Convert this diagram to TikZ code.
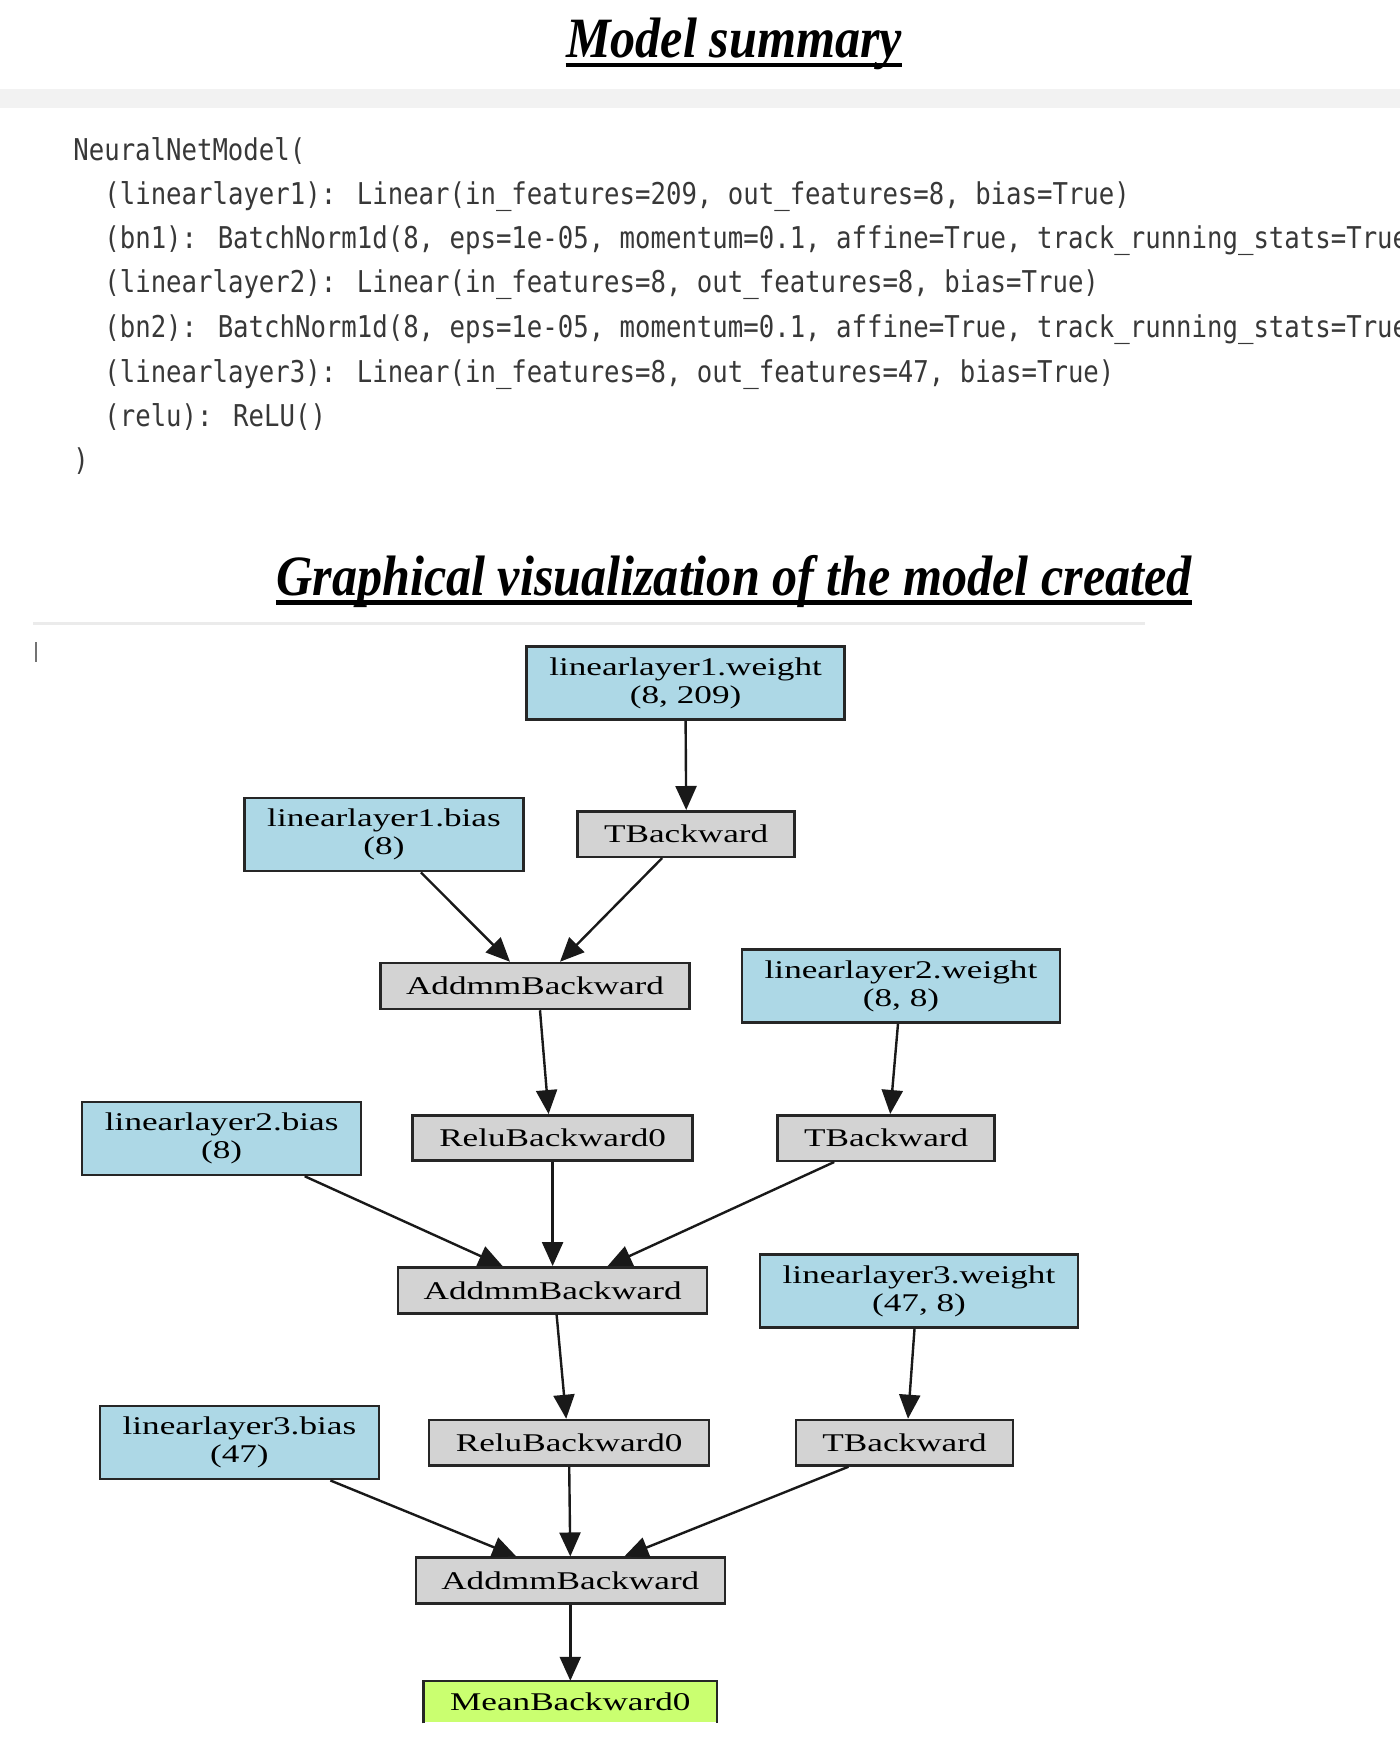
\documentclass[tikz,border=0pt]{standalone}
\usepackage{fontspec}
\setmainfont{Liberation Serif}
\newfontfamily\codefont{DejaVu Sans Mono}
\usepackage{graphicx}
\usetikzlibrary{arrows.meta}
\definecolor{nodeblue}{HTML}{ADD8E6}
\definecolor{nodegray}{HTML}{D3D3D3}
\definecolor{nodegreen}{HTML}{CAFF70}
\definecolor{codegray}{HTML}{383838}
\newcommand\hwide[1]{\scalebox{1.38}[1]{#1}}
\newcommand\hcode[1]{\scalebox{0.856}[1]{#1}}
\newcommand\htitle[1]{\scalebox{0.88}[1]{#1}}
\begin{document}
\begin{tikzpicture}[x=0.5pt,y=-0.5pt,
  box/.style={draw=black!85, line width=1.25pt, inner sep=0pt, align=center,
     font=\fontsize{12.75}{14}\selectfont},
  param/.style={box, fill=nodeblue, minimum height=36.5pt},
  wbox/.style={param, minimum width=159pt},
  bbox/.style={param, minimum width=139.5pt},
  tbox/.style={box, fill=nodegray, minimum width=108.5pt, minimum height=22.75pt},
  abox/.style={box, fill=nodegray, minimum width=154.5pt, minimum height=23pt},
  rbox/.style={box, fill=nodegray, minimum width=140pt, minimum height=22.7pt},
  edge/.style={line width=1.2pt, black!90, -{Triangle[length=12pt,width=10.5pt]}},
  codeline/.style={anchor=base west, inner sep=0pt, text=codegray, font=\codefont\fontsize{15}{15}\selectfont},
  title/.style={anchor=base, inner sep=0pt, font=\fontsize{28.5}{30}\selectfont\bfseries\itshape}
]
\path[use as bounding box] (0,0) rectangle (1400,1738);
\clip (0,0) rectangle (1400,1738);
\fill[white] (0,0) rectangle (1400,1738);

% ---- Title 1
\node[title] (t1) at (734,58) {\htitle{Model summary}};
\draw[line width=2.3pt] ([yshift=-3.6pt]t1.base west) -- ([yshift=-3.6pt]t1.base east);
\fill[black!5] (0,89) rectangle (1400,108);

% ---- Code
\node[codeline] (c0) at (73,161) {\hcode{NeuralNetModel(}};
\node[codeline] (c1) at (104,205) {\hcode{(linearlayer1): Linear(in\_features=209, out\_features=8, bias=True)}};
\node[codeline] (c2) at (104,249) {\hcode{(bn1): BatchNorm1d(8, eps=1e-05, momentum=0.1, affine=True, track\_running\_stats=True)}};
\node[codeline] (c3) at (104,293) {\hcode{(linearlayer2): Linear(in\_features=8, out\_features=8, bias=True)}};
\node[codeline] (c4) at (104,337) {\hcode{(bn2): BatchNorm1d(8, eps=1e-05, momentum=0.1, affine=True, track\_running\_stats=True)}};
\node[codeline] (c5) at (104,382) {\hcode{(linearlayer3): Linear(in\_features=8, out\_features=47, bias=True)}};
\node[codeline] (c6) at (104,426) {\hcode{(relu): ReLU()}};
\node[codeline] (c7) at (73,470) {\hcode{)}};

% ---- Title 2
\node[title] (t2) at (734,595) {\htitle{Graphical visualization of the model created}};
\draw[line width=2.3pt] ([yshift=-3.6pt]t2.base west) -- ([yshift=-3.6pt]t2.base east);
\draw[black!8, line width=1.5pt] (33,623) -- (1145,623);
\draw[black!55, line width=1pt] (36,642) -- (36,662);

% ---- Graph nodes
\node[wbox] (lw1) at (685.6,683) {\hwide{linearlayer1.weight}\\\hwide{(8, 209)}};
\node[tbox] (tb1) at (686.2,834) {\hwide{TBackward}};
\node[bbox] (lb1) at (384,834.7) {\hwide{linearlayer1.bias}\\\hwide{(8)}};
\node[abox] (ab1) at (535,986) {\hwide{AddmmBackward}};
\node[wbox] (lw2) at (901,986) {\hwide{linearlayer2.weight}\\\hwide{(8, 8)}};
\node[bbox] (lb2) at (221.7,1138.5) {\hwide{linearlayer2.bias}\\\hwide{(8)}};
\node[rbox] (rb1) at (552.6,1138) {\hwide{ReluBackward0}};
\node[tbox] (tb2) at (886.2,1138) {\hwide{TBackward}};
\node[abox] (ab2) at (552.6,1290.3) {\hwide{AddmmBackward}};
\node[wbox] (lw3) at (919,1291) {\hwide{linearlayer3.weight}\\\hwide{(47, 8)}};
\node[bbox] (lb3) at (239.4,1442.7) {\hwide{linearlayer3.bias}\\\hwide{(47)}};
\node[rbox] (rb2) at (569.2,1442.7) {\hwide{ReluBackward0}};
\node[tbox] (tb3) at (904.5,1442.7) {\hwide{TBackward}};
\node[abox] (ab3) at (570.3,1580.7) {\hwide{AddmmBackward}};
\node[box, draw=none, fill=nodegreen, minimum width=145.5pt, minimum height=20pt] (mb) at (570.3,1702) {\hwide{MeanBackward0}};
\draw[black!85, line width=1.25pt] (mb.south west) -- (mb.north west) -- (mb.north east) -- (mb.south east);

% ---- Edges
\draw[edge] (lw1.south) -- (tb1.north);
\draw[edge] ([xshift=18.5pt]lb1.south) -- ([xshift=-12.5pt]ab1.north);
\draw[edge] ([xshift=-12pt]tb1.south) -- ([xshift=12.5pt]ab1.north);
\draw[edge] ([xshift=2.5pt]ab1.south) -- ([xshift=-2pt]rb1.north);
\draw[edge] ([xshift=-1.5pt]lw2.south) -- ([xshift=2pt]tb2.north);
\draw[edge] ([xshift=41.5pt]lb2.south) -- ([xshift=-25pt]ab2.north);
\draw[edge] (rb1.south) -- (ab2.north);
\draw[edge] ([xshift=-26pt]tb2.south) -- ([xshift=27.5pt]ab2.north);
\draw[edge] ([xshift=2pt]ab2.south) -- ([xshift=-1.5pt]rb2.north);
\draw[edge] ([xshift=-2.25pt]lw3.south) -- ([xshift=1.75pt]tb3.north);
\draw[edge] ([xshift=45.5pt]lb3.south) -- ([xshift=-27pt]ab3.north);
\draw[edge] (rb2.south) -- (ab3.north);
\draw[edge] ([xshift=-28pt]tb3.south) -- ([xshift=27pt]ab3.north);
\draw[edge] (ab3.south) -- (mb.north);
\end{tikzpicture}
\end{document}
